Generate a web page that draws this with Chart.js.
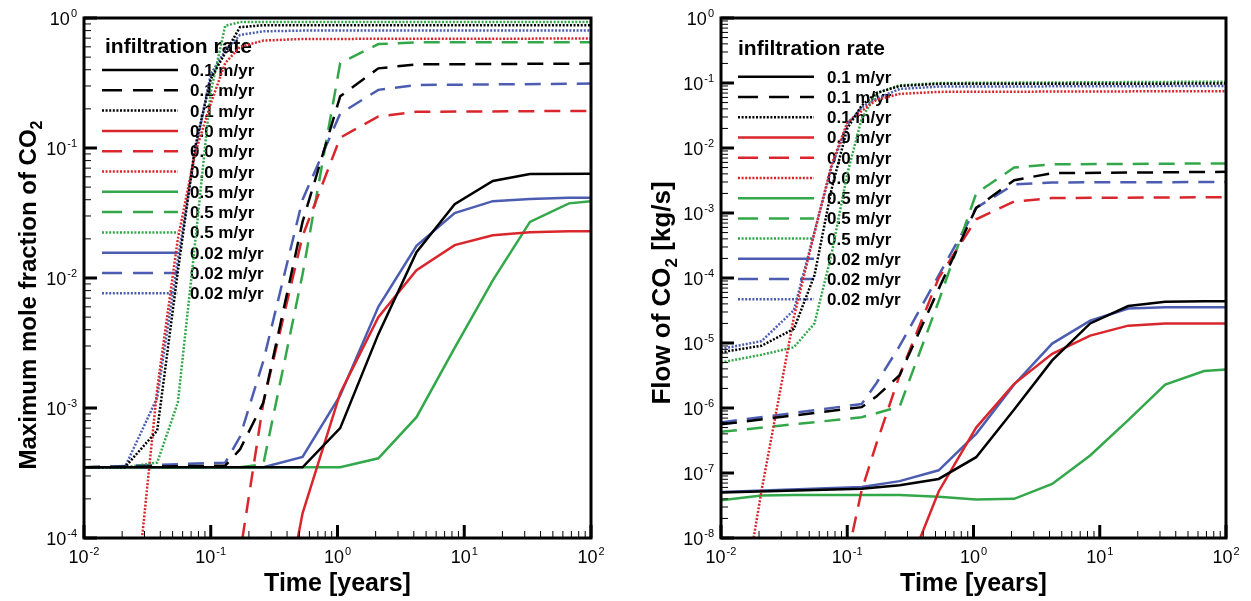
<!DOCTYPE html>
<html>
<head>
<meta charset="utf-8">
<title>CO2 infiltration</title>
<script src="https://cdn.jsdelivr.net/npm/chart.js@4.4.1/dist/chart.umd.min.js"></script>
<style>
  body { margin: 0; background: #fff; }
  #wrap { position: relative; width: 1251px; height: 601px; }
  #left { position: absolute; left: 0; top: 0; }
  #right { position: absolute; left: 625px; top: 0; }
</style>
</head>
<body>
<div id="wrap">
  <canvas id="left" width="625" height="601"></canvas>
  <canvas id="right" width="626" height="601"></canvas>
</div>
<script>
"use strict";

// time steps (years), shared by both panels; null = no kink read there
const times = [0.01, 0.021, 0.0378, 0.055, 0.075, 0.1, 0.13, 0.17, 0.26, 0.53, 1.05, 2.1, 4.2, 8.4, 16.8, 33, 67, 100];
const n = null;

const rateLabels = ['0.1 m/yr', '0.0 m/yr', '0.5 m/yr', '0.02 m/yr'];
const timeTicks = [-2, -1, 0, 1, 2];
const fracTicks = [-4, -3, -2, -1, 0];
const flowTicks = [-8, -7, -6, -5, -4, -3, -2, -1, 0];

// left: maximum mole fraction of CO2
const fracBlackSolid  = [3.5e-4, n, n, n, n, n, n, n, n, 3.5e-4, 7e-4, 3.7e-3, 0.0158, 0.037, 0.0557, 0.063, n, 0.0635];
const fracBlackDashed = [3.5e-4, n, n, n, n, n, 3.6e-4, 4.8e-4, 1.1e-3, 0.027, 0.25, 0.41, 0.44, n, n, n, n, 0.446];
const fracBlackDotted = [3.5e-4, 3.5e-4, 6.7e-4, 0.0112, 0.1, 0.34, 0.54, 0.85, 0.88, n, n, n, n, n, n, n, n, 0.88];
const fracRedSolid    = [n, n, n, n, n, n, n, n, 4e-6, 1.55e-4, 1.3e-3, 5.0e-3, 0.0115, 0.0179, 0.0213, 0.0225, 0.0229, 0.0229];
const fracRedDashed   = [n, n, n, n, n, n, 1e-6, 7.5e-5, 1.1e-3, 0.021, 0.12, 0.175, 0.19, n, n, n, n, 0.193];
const fracRedDotted   = [n, 5e-6, 1.4e-3, 0.02, 0.09, 0.22, 0.45, 0.6, 0.67, 0.69, n, n, n, n, n, n, n, 0.695];
const fracGreenSolid  = [3.5e-4, n, n, n, n, n, n, n, n, n, 3.5e-4, 4.1e-4, 8.5e-4, 2.9e-3, 9.6e-3, 0.027, 0.0375, 0.039];
const fracGreenDashed = [3.5e-4, n, n, n, n, n, n, 3.5e-4, 3.7e-4, 0.0107, 0.45, 0.63, 0.65, n, n, n, n, 0.65];
const fracGreenDotted = [3.5e-4, 3.5e-4, 3.8e-4, 1.1e-3, 0.018, 0.27, 0.87, 0.93, n, n, n, n, n, n, n, n, n, 0.93];
const fracBlueSolid   = [3.5e-4, n, n, n, n, n, n, n, 3.5e-4, 4.2e-4, 1.25e-3, 6.0e-3, 0.0177, 0.0316, 0.039, 0.0405, 0.0415, 0.0415];
const fracBlueDashed  = [3.5e-4, n, n, n, n, n, 3.8e-4, 6e-4, 2.3e-3, 0.04, 0.184, 0.28, 0.305, n, n, n, n, 0.313];
const fracBlueDotted  = [3.5e-4, 3.5e-4, 1.2e-3, 0.0138, 0.091, 0.37, 0.56, 0.74, 0.79, 0.8, n, n, n, n, n, n, n, 0.8];

// right: flow of CO2 [kg/s]
const flowBlackSolid  = [5e-8, n, n, n, n, n, 5.7e-8, n, 6.5e-8, 8.1e-8, 1.75e-7, 9.5e-7, 5.4e-6, 2e-5, 3.7e-5, 4.3e-5, 4.4e-5, 4.4e-5];
const flowBlackDashed = [5.6e-7, n, n, n, n, n, 1.03e-6, 1.5e-6, 3.2e-6, 6.8e-5, 1.2e-3, 3.2e-3, 4.1e-3, n, n, n, n, 4.3e-3];
const flowBlackDotted = [7.2e-6, 9.1e-6, 1.65e-5, 1.1e-4, 2.3e-3, 0.02, 0.045, 0.07, 0.09, 0.097, n, n, n, n, n, n, n, 0.098];
const flowRedSolid    = [n, n, n, n, n, n, n, n, 1.6e-9, 5.2e-8, 5e-7, 2.35e-6, 6.8e-6, 1.3e-5, 1.85e-5, 2e-5, n, 2e-5];
const flowRedDashed   = [n, n, n, n, n, 5e-9, 5.4e-8, 2.8e-7, 3.2e-6, 1e-4, 8e-4, 1.5e-3, 1.7e-3, n, n, n, n, 1.75e-3];
const flowRedDotted   = [1e-11, 5.5e-8, 2.5e-5, 5e-4, 5.5e-3, 0.0245, 0.037, 0.055, 0.068, 0.073, n, n, n, n, n, n, n, 0.075];
const flowGreenSolid  = [3.8e-8, 4.5e-8, 4.6e-8, n, n, n, n, n, 4.6e-8, 4.3e-8, 3.9e-8, 4e-8, 6.8e-8, 1.86e-7, 6.5e-7, 2.3e-6, 3.7e-6, 3.9e-6];
const flowGreenDashed = [4.3e-7, n, n, n, n, n, 7.2e-7, 8.3e-7, 1.05e-6, 4.4e-5, 2e-3, 5e-3, 5.6e-3, n, n, n, n, 5.8e-3];
const flowGreenDotted = [5e-6, 6.6e-6, 8.6e-6, 2e-5, 2.3e-4, 4e-3, 0.028, 0.07, 0.092, 0.1, n, n, n, n, n, n, n, 0.105];
const flowBlueSolid   = [5.1e-8, n, n, n, n, n, 6.1e-8, n, 7.5e-8, 1.1e-7, 4e-7, 2.3e-6, 9.8e-6, 2.2e-5, 3.4e-5, 3.55e-5, n, 3.55e-5];
const flowBlueDashed  = [6e-7, n, n, n, n, n, 1.15e-6, 2.4e-6, 9e-6, 1.1e-4, 1.2e-3, 2.75e-3, 2.95e-3, n, n, n, n, 3e-3];
const flowBlueDotted  = [8.1e-6, 1.07e-5, 3.2e-5, 5.1e-4, 5e-3, 0.023, 0.042, 0.057, 0.081, 0.088, n, n, n, n, n, n, n, 0.09];

const FONT = '"Liberation Sans", Arial, Helvetica, sans-serif';
const colors = ['#000000', '#d9262c', '#33a84a', '#4c5db1'];
const plotDash = { solid: [], dashed: [16, 10], dotted: [2, 1.6] };
const legendDash = { solid: [], dashed: [20, 11], dotted: [2, 1.6] };

function series(rate, style, vals) {
    return {
        label: rateLabels[rate],
        data: times.map((t, i) => ({ x: t, y: vals[i] })),
        borderColor: colors[rate],
        borderWidth: 2.5,
        borderDash: plotDash[style],
        borderCapStyle: 'butt',
        legendDash: legendDash[style],
        pointRadius: 0,
        tension: 0,
        spanGaps: true,
        fill: false
    };
}

function powLabel(ctx, exp, x, y, align) {
    ctx.font = '18px ' + FONT;
    const wb = ctx.measureText('10').width;
    ctx.font = '11px ' + FONT;
    const we = ctx.measureText(String(exp)).width;
    const x0 = align === 'right' ? x - wb - we - 1 : x - (wb + we + 1) / 2;
    ctx.font = '18px ' + FONT;
    ctx.fillText('10', x0, y);
    ctx.font = '11px ' + FONT;
    ctx.fillText(String(exp), x0 + wb + 1, y - 8);
}

// bold text with subscript parts: [[text, isSub], ...]
function richWidth(ctx, parts, size) {
    let w = 0;
    for (const [txt, sub] of parts) {
        ctx.font = 'bold ' + (sub ? Math.round(size * 0.65) : size) + 'px ' + FONT;
        w += ctx.measureText(txt).width;
    }
    return w;
}
function drawRich(ctx, parts, x, y, size) {
    for (const [txt, sub] of parts) {
        ctx.font = 'bold ' + (sub ? Math.round(size * 0.65) : size) + 'px ' + FONT;
        ctx.fillText(txt, x, sub ? y + size * 0.25 : y);
        x += ctx.measureText(txt).width;
    }
}

function tick(ctx, x1, y1, x2, y2, w) {
    ctx.lineWidth = w;
    ctx.beginPath();
    ctx.moveTo(x1, y1);
    ctx.lineTo(x2, y2);
    ctx.stroke();
}

const tecplotFrame = {
    id: 'tecplotFrame',
    beforeDatasetsDraw(chart, args, o) {
        //Legend inside plot, drawn under the curves
        const ctx = chart.ctx;
        ctx.save();
        ctx.fillStyle = '#000';
        ctx.textAlign = 'left';
        ctx.textBaseline = 'alphabetic';
        ctx.font = 'bold 21px ' + FONT;
        ctx.fillText('infiltration rate', o.titleX, o.titleY);
        chart.data.datasets.forEach((ds, i) => {
            const yy = o.legY + i * o.legStep;
            ctx.strokeStyle = ds.borderColor;
            ctx.lineWidth = ds.borderWidth;
            ctx.lineCap = 'butt';
            ctx.setLineDash(ds.legendDash);
            ctx.beginPath();
            ctx.moveTo(o.legX, yy);
            ctx.lineTo(o.legX + 76, yy);
            ctx.stroke();
            ctx.setLineDash([]);
            ctx.font = 'bold 17px ' + FONT;
            ctx.fillText(ds.label, o.textX, yy + 6);
        });
        ctx.restore();
    },
    afterDatasetsDraw(chart, args, o) {
        const ctx = chart.ctx;
        const a = chart.chartArea;
        const xs = chart.scales.x, ys = chart.scales.y;
        ctx.save();
        ctx.strokeStyle = '#000';
        ctx.fillStyle = '#000';
        ctx.setLineDash([]);

        // inward ticks, left and bottom
        const yT = o.yTicks;
        for (const e of yT) {
            for (let k = 1; k < 10; k++) {
                if (e === yT[yT.length - 1] && k > 1) break;
                const py = ys.getPixelForValue(k * Math.pow(10, e));
                tick(ctx, a.left, py, a.left + (k === 1 ? 13 : 7), py, k === 1 ? 3 : 1);
            }
        }
        for (const e of timeTicks) {
            for (let k = 1; k < 10; k++) {
                if (e === timeTicks[timeTicks.length - 1] && k > 1) break;
                const px = xs.getPixelForValue(k * Math.pow(10, e));
                tick(ctx, px, a.bottom, px, a.bottom - (k === 1 ? 13 : 7), k === 1 ? 3 : 1);
            }
        }

        ctx.lineWidth = 3;
        ctx.strokeRect(a.left, a.top, a.right - a.left, a.bottom - a.top);

        ctx.textAlign = 'left';
        ctx.textBaseline = 'alphabetic';
        for (const e of yT) {
            powLabel(ctx, e, a.left - 7, ys.getPixelForValue(Math.pow(10, e)) + 7, 'right');
        }
        for (const e of timeTicks) {
            powLabel(ctx, e, xs.getPixelForValue(Math.pow(10, e)), a.bottom + 25, 'center');
        }

        // axis titles
        const xw = richWidth(ctx, [['Time [years]', false]], 25);
        drawRich(ctx, [['Time [years]', false]], (a.left + a.right) / 2 - xw / 2, 591, 25);

        const yw = richWidth(ctx, o.yTitle, o.yTitleSize);
        ctx.translate(o.yTitleX, o.yTitleY);
        ctx.rotate(-Math.PI / 2);
        drawRich(ctx, o.yTitle, -yw / 2, o.yTitleSize * 0.36, o.yTitleSize);
        ctx.restore();
    }
};

function makeChart(id, sets, yMin, yMax, padRight, yWidth, frameOpts) {
    return new Chart(document.getElementById(id), {
        type: 'line',
        data: { datasets: sets },
        plugins: [tecplotFrame],
        options: {
            responsive: false,
            devicePixelRatio: 1,
            animation: false,
            events: [],
            layout: { padding: { left: 0, right: padRight, top: 18, bottom: 0 } },
            scales: {
                x: {
                    type: 'logarithmic', min: 0.01, max: 100,
                    grid: { display: false }, border: { display: false },
                    ticks: { display: false },
                    afterFit: s => { s.height = 63; }
                },
                y: {
                    type: 'logarithmic', min: yMin, max: yMax,
                    grid: { display: false }, border: { display: false },
                    ticks: { display: false },
                    afterFit: s => { s.width = yWidth; }
                }
            },
            plugins: {
                legend: { display: false },
                tooltip: { enabled: false },
                tecplotFrame: frameOpts
            }
        }
    });
}

const fracSets = [
    series(0, 'solid', fracBlackSolid), series(0, 'dashed', fracBlackDashed), series(0, 'dotted', fracBlackDotted),
    series(1, 'solid', fracRedSolid), series(1, 'dashed', fracRedDashed), series(1, 'dotted', fracRedDotted),
    series(2, 'solid', fracGreenSolid), series(2, 'dashed', fracGreenDashed), series(2, 'dotted', fracGreenDotted),
    series(3, 'solid', fracBlueSolid), series(3, 'dashed', fracBlueDashed), series(3, 'dotted', fracBlueDotted)
];
const flowSets = [
    series(0, 'solid', flowBlackSolid), series(0, 'dashed', flowBlackDashed), series(0, 'dotted', flowBlackDotted),
    series(1, 'solid', flowRedSolid), series(1, 'dashed', flowRedDashed), series(1, 'dotted', flowRedDotted),
    series(2, 'solid', flowGreenSolid), series(2, 'dashed', flowGreenDashed), series(2, 'dotted', flowGreenDotted),
    series(3, 'solid', flowBlueSolid), series(3, 'dashed', flowBlueDashed), series(3, 'dotted', flowBlueDotted)
];

makeChart('left', fracSets, 1e-4, 1, 34, 84, {
    yTicks: fracTicks,
    yTitle: [['Maximum mole fraction of CO', false], ['2', true]],
    yTitleSize: 24, yTitleX: 27, yTitleY: 295,
    titleX: 105, titleY: 52.7,
    legX: 102, legY: 70, legStep: 20.3, textX: 190
});
makeChart('right', flowSets, 1e-8, 1, 25, 96, {
    yTicks: flowTicks,
    yTitle: [['Flow of CO', false], ['2', true], [' [kg/s]', false]],
    yTitleSize: 26, yTitleX: 36, yTitleY: 293,
    titleX: 113, titleY: 55,
    legX: 113, legY: 76.7, legStep: 20.24, textX: 202
});
</script>
</body>
</html>
